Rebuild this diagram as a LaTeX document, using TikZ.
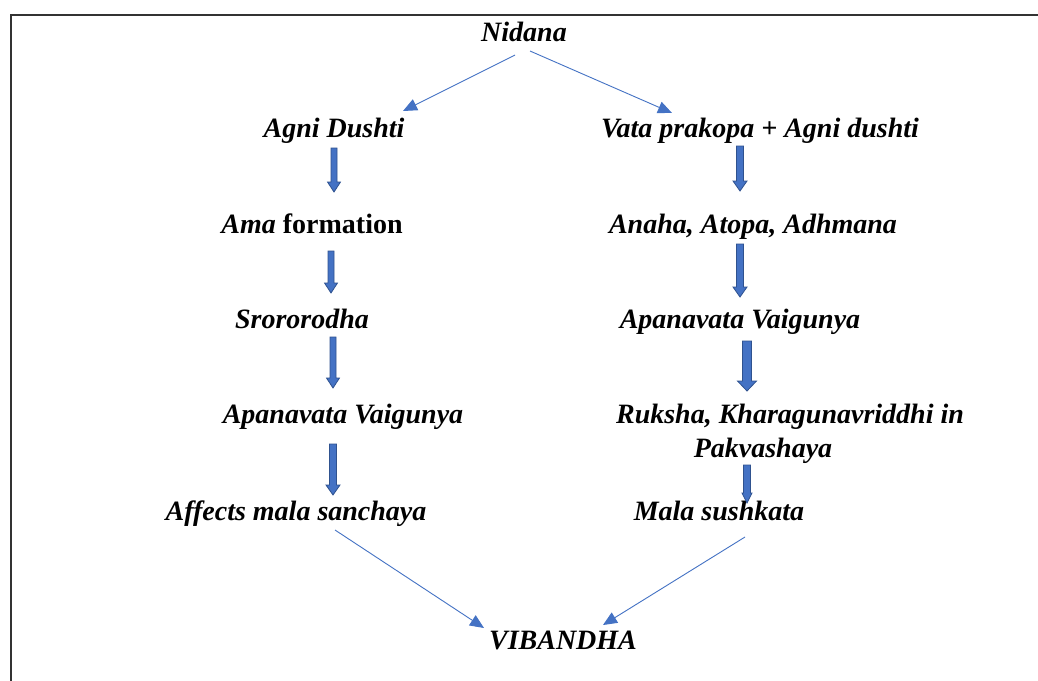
\documentclass[tikz,border=0pt]{standalone}
\usepackage{fontspec}
\setmainfont{Liberation Serif}
\usetikzlibrary{arrows.meta}
\definecolor{ablue}{HTML}{4472C4}
\definecolor{adark}{HTML}{2F528F}
\newcommand\blockarr[6]{% name, x, ytop, ytip, shaft half, head half
  \coordinate (#1s) at (#2,#3);
  \coordinate (#1t) at (#2,#4);
  \filldraw[barrow] (#2-#5,#3) -- (#2+#5,#3) -- (#2+#5,#4-10) -- (#2+#6,#4-10)
    -- (#1t) -- (#2-#6,#4-10) -- (#2-#5,#4-10) -- cycle;}
\begin{document}
\begin{tikzpicture}[x=1pt,y=-1pt,
  lbl/.style={anchor=base,inner sep=0pt,font=\fontsize{28}{34}\selectfont\bfseries\itshape},
  thin/.style={ablue,line width=0.9pt,-{Triangle[length=14pt,width=12pt]}},
  barrow/.style={fill=ablue,draw=adark,line width=0.8pt}]
\useasboundingbox (0,0) rectangle (1038,680);
\fill[white] (0,0) rectangle (1038,680);
\draw[black!80,line width=1.2pt] (1040,15) -- (11,15) -- (11,682);
% labels
\node[lbl] (nid) at (524,41) {Nidana};
\node[lbl] (agni) at (334,137) {Agni Dushti};
\node[lbl] (vata) at (760,137) {Vata prakopa + Agni dushti};
\node[lbl] (ama) at (312,233) {Ama \upshape formation};
\node[lbl] (anaha) at (753,233) {Anaha, Atopa, Adhmana};
\node[lbl] (sroto) at (302,328) {Srororodha};
\node[lbl] (apanR) at (740,328) {Apanavata Vaigunya};
\node[lbl] (apanL) at (343,423) {Apanavata Vaigunya};
\node[lbl,align=center] (ruksha) at (790,457) {Ruksha, Kharagunavriddhi in\\Pakvashaya\hspace*{54pt}};
\node[lbl] (affects) at (296,520) {Affects mala sanchaya};
\node[lbl] (mala) at (719,520) {Mala sushkata};
\node[lbl] (vib) at (563,649) {VIBANDHA};
% thin arrows
\coordinate (n1) at (515,55);
\coordinate (n1t) at (403,111);
\coordinate (n2) at (530,51);
\coordinate (n2t) at (672,113);
\coordinate (b1) at (335,530);
\coordinate (b1t) at (484,628);
\coordinate (b2) at (745,537);
\coordinate (b2t) at (603,625);
\draw[thin] (n1) -- (n1t);
\draw[thin] (n2) -- (n2t);
\draw[thin] (b1) -- (b1t);
\draw[thin] (b2) -- (b2t);
% block arrows
\blockarr{L1}{334}{148}{192}{3}{6.5}
\blockarr{L2}{331}{251}{293}{3}{6.5}
\blockarr{L3}{333}{337}{388}{3}{6.5}
\blockarr{L4}{333}{444}{495}{3.5}{7}
\blockarr{R1}{740}{146}{191}{3.5}{7}
\blockarr{R2}{740}{244}{297}{3.5}{7}
\blockarr{R3}{747}{341}{391}{4.5}{9.5}
\blockarr{R4}{747}{465}{503}{3.5}{5}
\end{tikzpicture}
\end{document}
